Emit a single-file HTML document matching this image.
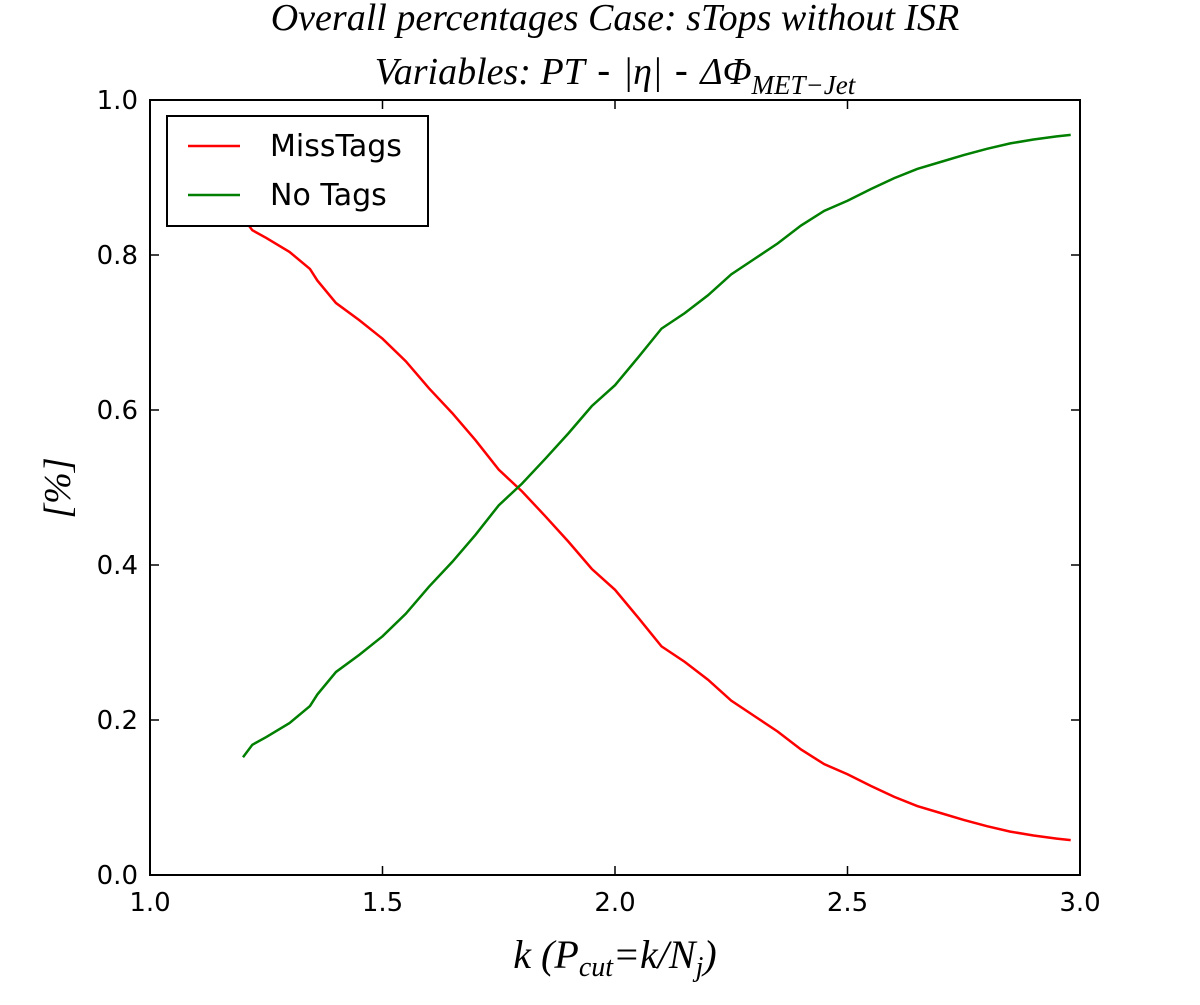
<!DOCTYPE html>
<html><head><meta charset="utf-8"><style>
body{margin:0;background:#fff;width:1200px;height:1000px;overflow:hidden}
svg text{font-family:"DejaVu Sans","Liberation Sans",sans-serif}
.m{font-family:"Liberation Serif",serif;font-style:italic}
</style></head><body>
<svg id="c" width="1200" height="1000" xmlns="http://www.w3.org/2000/svg">
<text class="m" x="615" y="30" font-size="38" text-anchor="middle">Overall percentages Case: sTops without ISR</text>
<text x="615" y="84" font-size="38" text-anchor="middle"><tspan class="m">Variables: PT</tspan> - <tspan class="m">|η|</tspan> - <tspan class="m">ΔΦ</tspan><tspan class="m" font-size="27" dy="10">MET−Jet</tspan></text>
<g id="axes"></g>
<g id="plot"></g>
<text class="m" x="615" y="968" font-size="40" text-anchor="middle">k (P<tspan font-size="28" dy="8">cut</tspan><tspan dy="-8">=k/N</tspan><tspan font-size="28" dy="8">j</tspan><tspan dy="-8">)</tspan></text>
<text class="m" x="0" y="0" font-size="38" text-anchor="middle" transform="translate(70,488) rotate(-90)">[%]</text>
</svg>
<script>
const kValues=[1.2,1.22,1.25,1.3,1.344,1.36,1.4,1.45,1.5,1.55,1.6,1.65,1.7,1.75,1.8,1.85,1.9,1.95,2.0,2.05,2.1,2.15,2.2,2.25,2.3,2.35,2.4,2.45,2.5,2.55,2.6,2.65,2.7,2.75,2.8,2.85,2.9,2.95,2.98];
const noTags=[0.152,0.168,0.178,0.196,0.218,0.233,0.262,0.284,0.308,0.337,0.372,0.404,0.439,0.477,0.505,0.537,0.570,0.605,0.632,0.668,0.705,0.725,0.748,0.775,0.795,0.815,0.838,0.857,0.870,0.885,0.899,0.911,0.920,0.929,0.937,0.944,0.949,0.953,0.955];
const missTags=[0.848,0.832,0.822,0.804,0.782,0.767,0.738,0.716,0.692,0.663,0.628,0.596,0.561,0.523,0.495,0.463,0.430,0.395,0.368,0.332,0.295,0.275,0.252,0.225,0.205,0.185,0.162,0.143,0.130,0.115,0.101,0.089,0.080,0.071,0.063,0.056,0.051,0.047,0.045];
const xTicks=[1.0,1.5,2.0,2.5,3.0];
const yTicks=[0.0,0.2,0.4,0.6,0.8,1.0];
const L=150,R=1080,T=100,B=875;
const X=v=>L+(v-1)/2*(R-L), Y=v=>B-v*(B-T);
const NS='http://www.w3.org/2000/svg';
function mk(p,t,a){const e=document.createElementNS(NS,t);for(const k in a)e.setAttribute(k,a[k]);p.appendChild(e);return e;}
const ax=document.getElementById('axes'),pl=document.getElementById('plot');
xTicks.forEach(v=>{const x=X(v);
 const t=mk(ax,'path',{d:`M${x},${B}v-9M${x},${T}v9`,stroke:'#000','stroke-width':1.5});
 
 
 const l=mk(ax,'text',{x:x,y:B+36,'font-size':26,'text-anchor':'middle'});l.textContent=v.toFixed(1);
 
 });
yTicks.forEach(v=>{const y=Y(v);
 const t=mk(ax,'path',{d:`M${L},${y}h9M${R},${y}h-9`,stroke:'#000','stroke-width':1.5});
 
 
 const l=mk(ax,'text',{x:L-12,y:y+9,'font-size':26,'text-anchor':'end'});l.textContent=v.toFixed(1);
 
 });
function line(vals,col,name){const e=mk(pl,'polyline',{points:kValues.map((k,i)=>X(k)+','+Y(vals[i])).join(' '),fill:'none',stroke:col,'stroke-width':2.5});
 
 }
line(missTags,'#f00','misstags-line');
line(noTags,'#007f00','notags-line');
const fr=mk(pl,'rect',{x:L,y:T,width:R-L,height:B-T,fill:'none',stroke:'#000','stroke-width':2});


const lg=mk(pl,'g',{});


mk(lg,'rect',{x:167,y:116,width:261,height:110,fill:'#fff',stroke:'#000','stroke-width':2});
[['MissTags','#f00',146],['No Tags','#007f00',195]].forEach(([n,c,y])=>{
 const g=mk(lg,'g',{});
 
 
 mk(g,'line',{x1:188,x2:240,y1:y,y2:y,stroke:c,'stroke-width':2.5});
 const t=mk(g,'text',{x:270,y:y+10,'font-size':30});t.textContent=n;});
</script>
</body></html>
